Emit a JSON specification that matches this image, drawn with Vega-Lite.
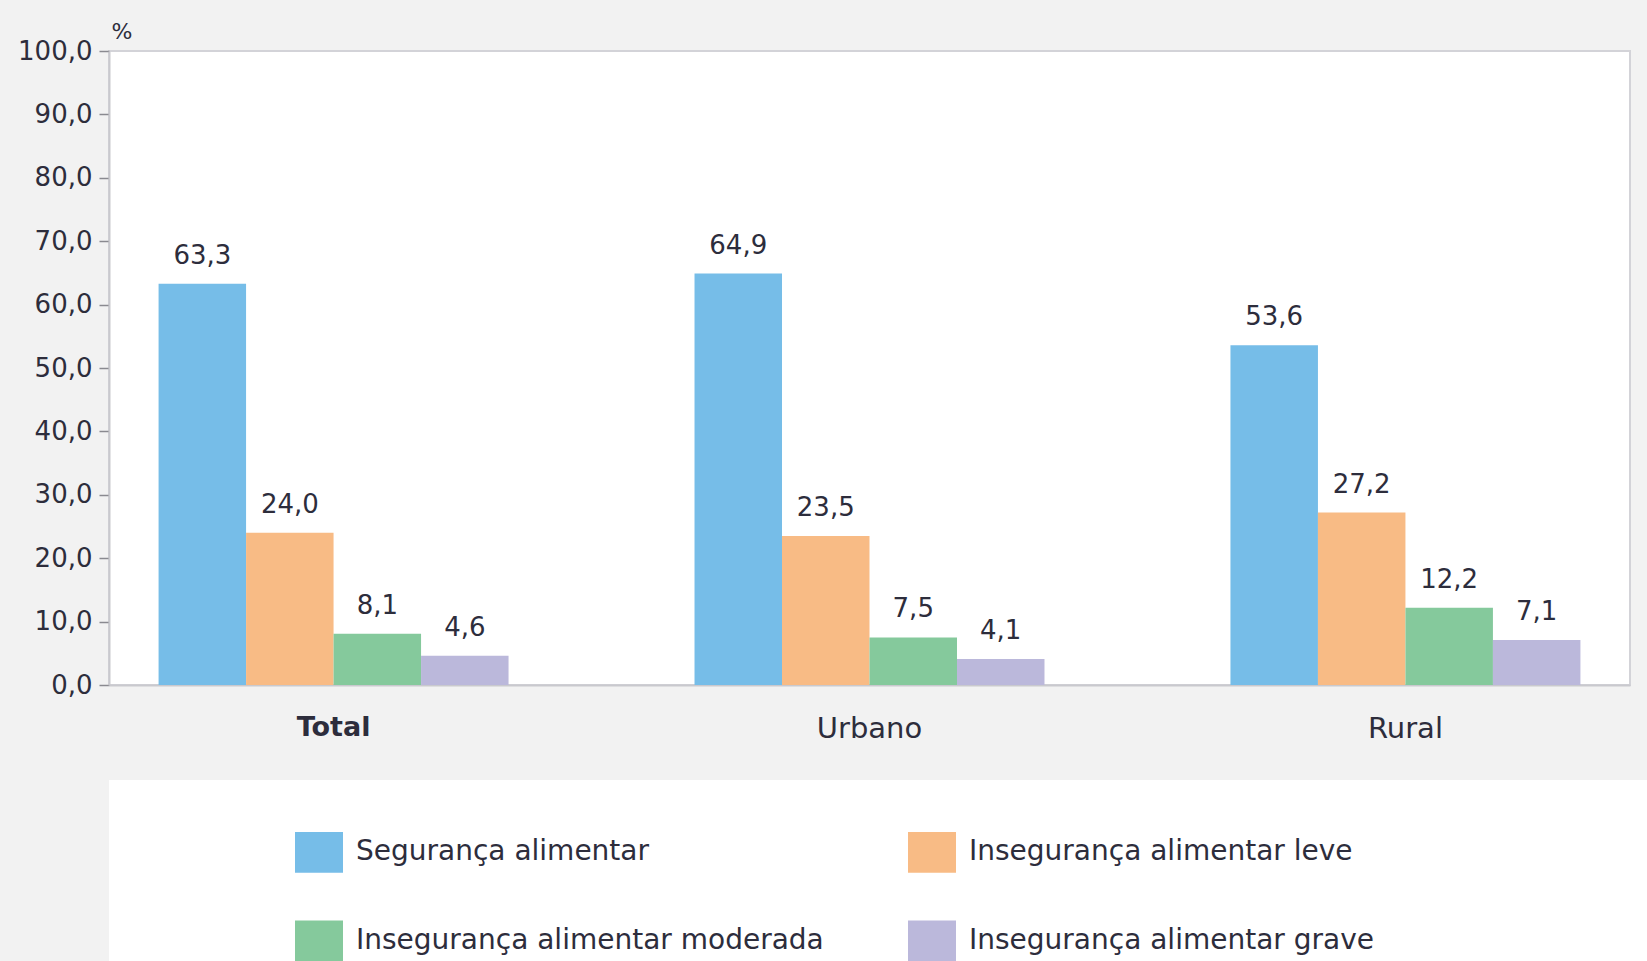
{
  "$schema": "https://vega.github.io/schema/vega-lite/v6.json",
  "background": "#f2f2f2",
  "padding": {"left": 0, "top": 19, "right": 0, "bottom": 0},
  "autosize": {"type": "pad"},
  "spacing": 36,
  "config": {
    "locale": {"number": {"decimal": ",", "thousands": ".", "grouping": [3], "currency": ["R$", ""]}},
    "font": "DejaVu Sans"
  },
  "data": {
    "values": [
      {"area": "Total", "categoria": "Segurança alimentar", "valor": 63.3},
      {"area": "Total", "categoria": "Insegurança alimentar leve", "valor": 24.0},
      {"area": "Total", "categoria": "Insegurança alimentar moderada", "valor": 8.1},
      {"area": "Total", "categoria": "Insegurança alimentar grave", "valor": 4.6},
      {"area": "Urbano", "categoria": "Segurança alimentar", "valor": 64.9},
      {"area": "Urbano", "categoria": "Insegurança alimentar leve", "valor": 23.5},
      {"area": "Urbano", "categoria": "Insegurança alimentar moderada", "valor": 7.5},
      {"area": "Urbano", "categoria": "Insegurança alimentar grave", "valor": 4.1},
      {"area": "Rural", "categoria": "Segurança alimentar", "valor": 53.6},
      {"area": "Rural", "categoria": "Insegurança alimentar leve", "valor": 27.2},
      {"area": "Rural", "categoria": "Insegurança alimentar moderada", "valor": 12.2},
      {"area": "Rural", "categoria": "Insegurança alimentar grave", "valor": 7.1}
    ]
  },
  "vconcat": [
    {
      "width": 1521,
      "height": 634,
      "view": {"fill": "white", "stroke": "#d3d3d8", "strokeWidth": 2},
      "encoding": {
        "x": {
          "field": "area", "type": "nominal", "sort": ["Total", "Urbano", "Rural"],
          "scale": {"paddingInner": 0.347, "paddingOuter": 0.0925},
          "axis": {
            "title": null, "ticks": false, "labelPadding": 29,
            "labelColor": "#2d2d3c", "labelAngle": 0, "domainColor": "#c9c9ce", "domainWidth": 2,
            "labelFontSize": {"condition": {"test": "datum.value === 'Total'", "value": 27}, "value": 29},
            "labelFontWeight": {"condition": {"test": "datum.value === 'Total'", "value": "bold"}, "value": "normal"}
          }
        },
        "xOffset": {
          "field": "categoria", "type": "nominal",
          "sort": ["Segurança alimentar", "Insegurança alimentar leve", "Insegurança alimentar moderada", "Insegurança alimentar grave"],
          "scale": {"paddingInner": 0, "paddingOuter": 0}
        },
        "y": {
          "field": "valor", "type": "quantitative",
          "scale": {"domain": [0, 100]},
          "axis": {
            "title": "%", "titleAngle": 0, "titleX": 2, "titleY": -8, "titleAlign": "left", "titleBaseline": "bottom",
            "titleFontSize": 22, "titleFontWeight": "normal", "titleColor": "#2d2d3c",
            "values": [0, 10, 20, 30, 40, 50, 60, 70, 80, 90, 100], "format": ".1f", "grid": false,
            "labelFontSize": 26, "labelColor": "#2d2d3c", "labelPadding": 7,
            "tickSize": 10, "tickColor": "#8a8a90", "tickWidth": 1.5,
            "domainColor": "#c9c9ce", "domainWidth": 2, "minExtent": 108
          }
        }
      },
      "layer": [
        {
          "mark": {"type": "bar"},
          "encoding": {
            "color": {
              "field": "categoria", "type": "nominal",
              "sort": ["Segurança alimentar", "Insegurança alimentar leve", "Insegurança alimentar moderada", "Insegurança alimentar grave"],
              "scale": {
                "domain": ["Segurança alimentar", "Insegurança alimentar leve", "Insegurança alimentar moderada", "Insegurança alimentar grave"],
                "range": ["#76bde8", "#f8bb85", "#85c99c", "#bbb8db"]
              },
              "legend": {
                "orient": "none", "legendX": 186, "legendY": 777, "columns": 2, "direction": "horizontal", "title": null,
                "symbolType": "M-1,-0.85H1V0.85H-1Z", "symbolSize": 2304, "symbolStrokeWidth": 0, "symbolOpacity": 1,
                "labelFontSize": 28, "labelColor": "#2d2d3c", "labelLimit": 700, "labelOffset": 13,
                "columnPadding": 84, "rowPadding": 44, "padding": 0
              }
            }
          }
        },
        {
          "mark": {"type": "text", "baseline": "alphabetic", "dy": -20, "fontSize": 26, "color": "#2d2d3c"},
          "encoding": {"text": {"field": "valor", "type": "quantitative", "format": ".1f"}}
        }
      ]
    },
    {
      "width": 1647,
      "height": 181,
      "view": {"fill": "white", "stroke": null},
      "mark": {"type": "text"},
      "encoding": {"text": {"value": ""}}
    }
  ]
}
